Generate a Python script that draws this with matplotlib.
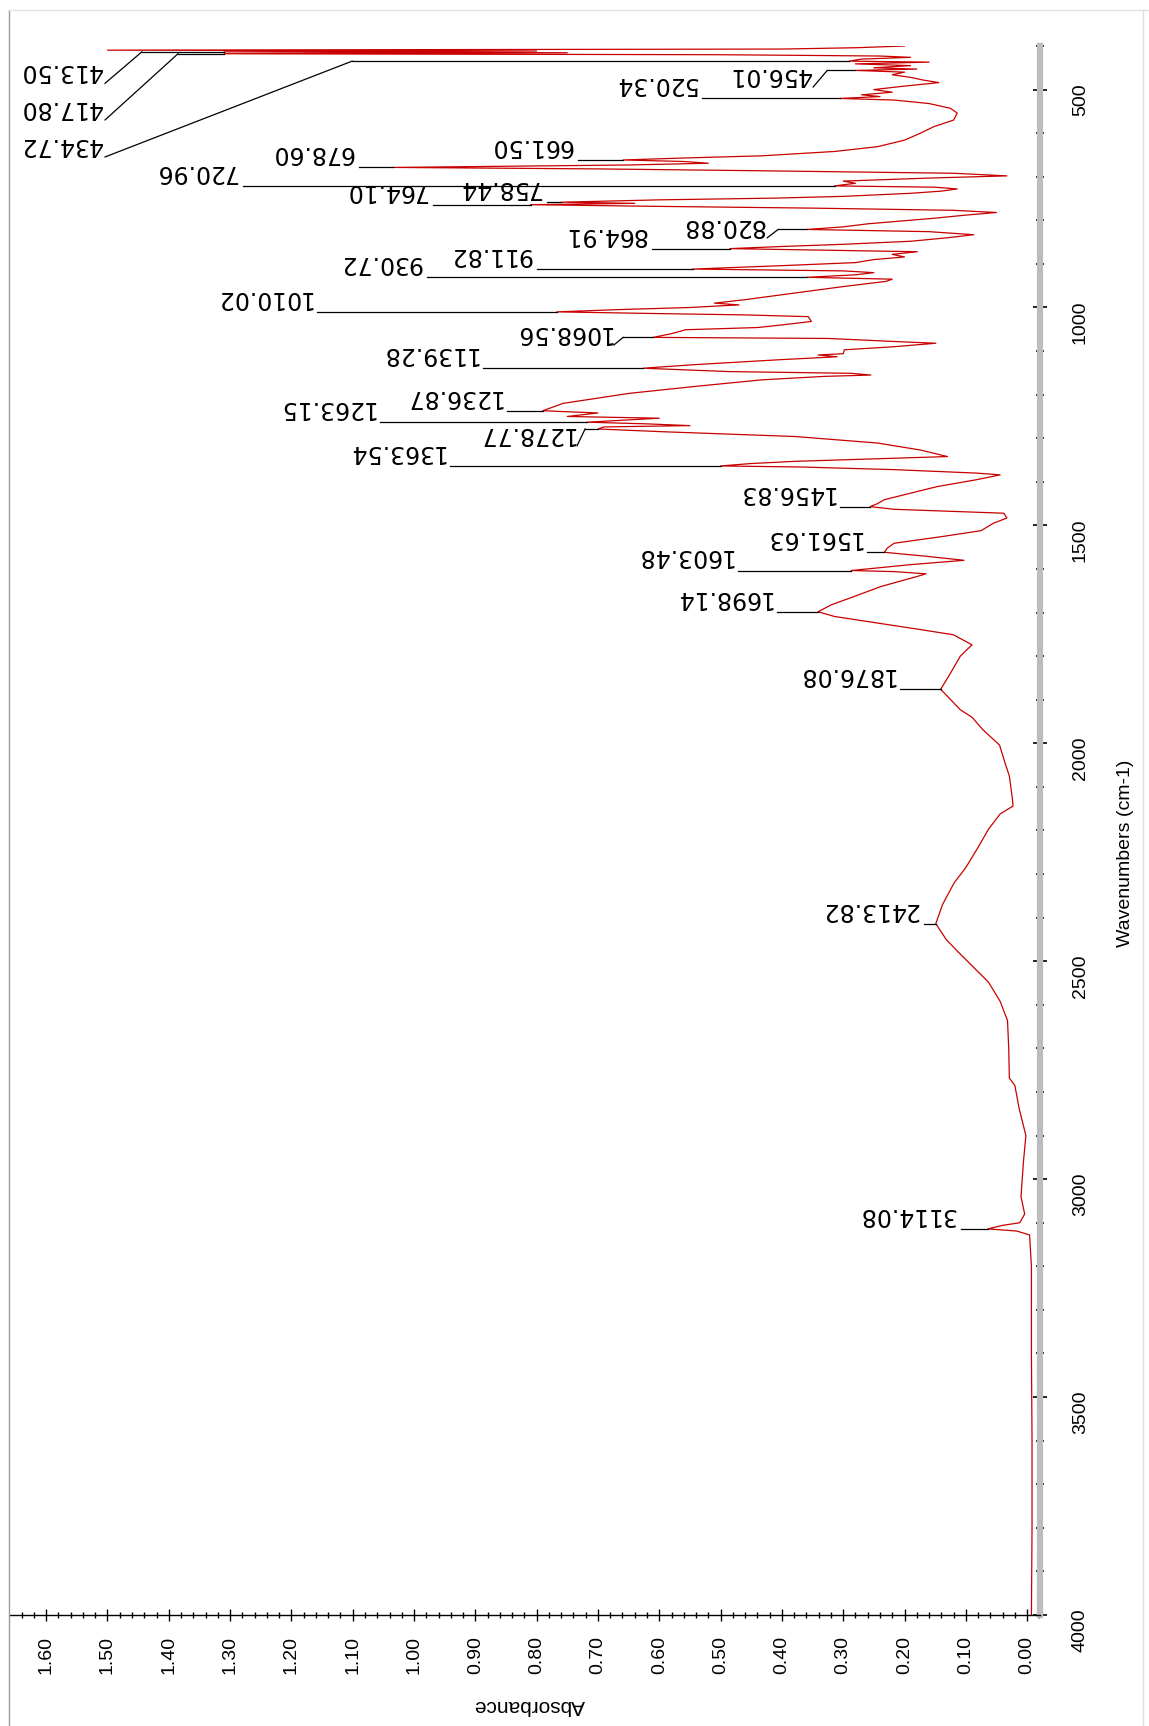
import numpy as np
import matplotlib
matplotlib.use('Agg')
import matplotlib.pyplot as plt
from matplotlib.lines import Line2D
from matplotlib.ticker import MultipleLocator, FuncFormatter

# ---------------- spectrum ----------------
wavenumber = [
    400, 404, 407, 409.5, 411.5, 413.5, 415.5, 417.8, 420, 423, 426, 430, 434.72, 437,
    441, 445, 450, 453, 456.01, 460, 466, 472, 478, 484, 492, 500, 506, 512, 516,
    520.34, 524, 532, 543, 554, 570, 585, 600, 616, 631, 642, 652, 657, 661.5, 665,
    669, 673, 678.6, 682, 686, 692, 698, 703, 710, 715, 720.96, 724, 728, 733, 738,
    745, 749, 753, 758.44, 761, 764.1, 768, 772, 777, 782, 788, 795, 802, 808, 815,
    820.88, 826, 833, 840, 848, 855, 860, 864.91, 868, 872, 878, 884, 890, 897, 904,
    911.82, 916, 920, 925, 930.72, 935, 940, 952, 967, 982, 990, 994, 1000, 1005,
    1010.02, 1014, 1017, 1021, 1032, 1040, 1046, 1051, 1060, 1068.56, 1071, 1078,
    1082, 1090, 1097, 1106, 1109, 1113, 1120, 1131, 1139.28, 1147, 1151, 1155, 1158,
    1166, 1181, 1197, 1220, 1236.87, 1242, 1250, 1254, 1263.15, 1267, 1271, 1274,
    1278.77, 1285, 1296, 1311, 1327, 1342, 1353, 1358, 1363.54, 1366, 1372, 1380,
    1384, 1395, 1411, 1426, 1441, 1450, 1456.83, 1463, 1472, 1483, 1495, 1512, 1525,
    1541, 1552, 1561.63, 1571, 1580, 1590, 1603.48, 1606, 1611, 1617, 1640, 1663,
    1682, 1698.14, 1709, 1724, 1739, 1751, 1774, 1800, 1839, 1876.08, 1892, 1923,
    1940, 1969, 2004, 2045, 2075, 2127, 2144, 2162, 2197, 2241, 2285, 2320, 2370,
    2413.82, 2450, 2478, 2513, 2548, 2592, 2636, 2700, 2768, 2785, 2838, 2900, 2960,
    3040, 3080, 3100, 3106, 3114.08, 3119, 3128, 3200, 3400, 3600, 3800, 4000]
absorbance = [
    0.20, 0.28, 0.40, 1.50, 0.80, 1.31, 0.75, 1.31, 0.50, 0.24, 0.19, 0.27, 0.29, 0.16,
    0.28, 0.19, 0.25, 0.18, 0.28, 0.20, 0.22, 0.19, 0.17, 0.144, 0.20, 0.25, 0.22, 0.27, 0.24,
    0.305, 0.217, 0.16, 0.125, 0.114, 0.12, 0.152, 0.174, 0.20, 0.244, 0.314, 0.433, 0.56, 0.659, 0.56,
    0.52, 0.65, 1.034, 0.70, 0.45, 0.12, 0.033, 0.16, 0.30, 0.28, 0.314, 0.15, 0.114, 0.14, 0.19,
    0.30, 0.41, 0.60, 0.76, 0.64, 0.81, 0.60, 0.35, 0.12, 0.05, 0.10, 0.15, 0.21, 0.26, 0.30,
    0.359, 0.16, 0.087, 0.13, 0.19, 0.30, 0.40, 0.485, 0.35, 0.179, 0.22, 0.20, 0.25, 0.28, 0.40,
    0.545, 0.30, 0.25, 0.28, 0.359, 0.22, 0.23, 0.30, 0.38, 0.46, 0.51, 0.47, 0.55, 0.67,
    0.767, 0.60, 0.46, 0.357, 0.352, 0.40, 0.44, 0.557, 0.58, 0.61, 0.325, 0.217,
    0.149, 0.217, 0.298, 0.30, 0.341, 0.31, 0.406, 0.541, 0.626, 0.487, 0.287, 0.255, 0.33,
    0.433, 0.541, 0.649, 0.757, 0.79, 0.70, 0.75, 0.60, 0.718, 0.62, 0.55, 0.69,
    0.70, 0.595, 0.379, 0.244, 0.174, 0.130, 0.379, 0.45, 0.50, 0.368, 0.217, 0.082,
    0.044, 0.082, 0.147, 0.190, 0.233, 0.244, 0.256, 0.217, 0.038, 0.033, 0.055, 0.075, 0.136,
    0.217, 0.228, 0.233, 0.163, 0.103, 0.190, 0.287, 0.217, 0.165, 0.179, 0.238, 0.282,
    0.319, 0.341, 0.314, 0.244, 0.174, 0.12, 0.09, 0.109, 0.125, 0.141, 0.130, 0.109,
    0.09, 0.072, 0.045, 0.036, 0.029, 0.024, 0.023, 0.044, 0.063, 0.081, 0.100, 0.119, 0.138,
    0.149, 0.132, 0.113, 0.088, 0.063, 0.044, 0.032, 0.030, 0.029, 0.020, 0.013, 0.002, 0.006,
    0.010, 0.004, 0.012, 0.040, 0.064, 0.017, -0.004, -0.007, -0.007, -0.008, -0.008, -0.007]

# ---------------- peak labels ----------------
peak_labels = ['413.50', '417.80', '434.72', '456.01', '520.34', '661.50', '678.60',
               '720.96', '758.44', '764.10', '820.88', '864.91', '911.82', '930.72',
               '1010.02', '1068.56', '1139.28', '1236.87', '1263.15', '1278.77',
               '1363.54', '1456.83', '1561.63', '1603.48', '1698.14', '1876.08',
               '2413.82', '3114.08']
# absorbance where the horizontal label line ends
label_end = [1.444, 1.385, 1.101, 0.326, 0.530, 0.732, 1.09,
             1.279, 0.783, 0.969, 0.406, 0.612, 0.799, 0.979,
             1.158, 0.659, 0.887, 0.848, 1.055, 0.721,
             0.941, 0.305, 0.261, 0.471, 0.408, 0.207,
             0.168, 0.108]
# slanted leader end (wavenumber, absorbance); nan = straight leader
leader_wn = [485.6, 569.7, 654.6, 494, np.nan, np.nan, np.nan,
             np.nan, np.nan, np.nan, 840, np.nan, np.nan, np.nan,
             np.nan, 1086, np.nan, np.nan, np.nan, 1317,
             np.nan, np.nan, np.nan, np.nan, np.nan, np.nan,
             np.nan, np.nan]
leader_abs = [1.504, 1.504, 1.504, 0.349, np.nan, np.nan, np.nan,
              np.nan, np.nan, np.nan, 0.424, np.nan, np.nan, np.nan,
              np.nan, 0.674, np.nan, np.nan, np.nan, 0.734,
              np.nan, np.nan, np.nan, np.nan, np.nan, np.nan,
              np.nan, np.nan]

W, H = 1149, 1726
fig = plt.figure(figsize=(W / 100, H / 100), dpi=100)
ax = fig.add_axes([10 / W, 1 - 1615 / H, (1040 - 10) / W, (1615 - 46) / H])

ax.plot(absorbance, wavenumber, color='#c80000', lw=0.9, zorder=2)

# label leaders and texts
peak_wn = np.array([float(s) for s in peak_labels])
tips = np.interp(peak_wn, wavenumber, absorbance)
for txt, wn, tip, end, dwn, dab in zip(peak_labels, peak_wn, tips, label_end, leader_wn, leader_abs):
    ax.plot([tip, end], [wn, wn], color='black', lw=0.9, zorder=3)
    if np.isnan(dwn):
        anchor, off = (end, wn), (-4, 1.5)
    else:
        ax.plot([end, dab], [wn, dwn], color='black', lw=0.9, zorder=3)
        anchor, off = (dab, dwn), (-2, 0)
    ax.annotate(txt, xy=anchor, xytext=off, textcoords='offset points',
                rotation=180, ha='right', va='bottom', fontsize=17,
                family='DejaVu Sans', zorder=4)

# axes
ax.set_xlim(1.659, -0.021)
ax.set_ylim(4000, 400)
ax.xaxis.set_major_locator(MultipleLocator(0.1))
ax.xaxis.set_minor_locator(MultipleLocator(0.02))
ax.xaxis.set_major_formatter(FuncFormatter(lambda v, p: '%.2f' % abs(v) if abs(v) < 1e-9 else '%.2f' % v))
ax.yaxis.set_major_locator(MultipleLocator(500))
ax.yaxis.set_minor_locator(MultipleLocator(100))

for s in ['left', 'top']:
    ax.spines[s].set_visible(False)
ax.spines['bottom'].set_color('black')
ax.spines['bottom'].set_linewidth(1.0)
ax.spines['right'].set_color('#bdbdbd')
ax.spines['right'].set_linewidth(4.5)

tick_font = ['Liberation Sans Narrow', 'Liberation Sans', 'DejaVu Sans']
ax.yaxis.tick_right()
ax.tick_params(axis='y', which='major', direction='inout', length=10, width=1.2,
               pad=18, labelrotation=90, labelsize=14)
ax.tick_params(axis='y', which='minor', direction='inout', length=6, width=1.2)
ax.tick_params(axis='x', which='major', direction='inout', length=8, width=1.0,
               pad=11, labelrotation=90, labelsize=14)
ax.tick_params(axis='x', which='minor', direction='inout', length=4, width=1.0)
for lab in ax.get_xticklabels() + ax.get_yticklabels():
    lab.set_family(tick_font)

fig.text(529 / W, 1 - 1705 / H, 'Absorbance', rotation=180, ha='center', va='center',
         fontsize=15, family=tick_font)
fig.text(1125 / W, 1 - 853 / H, 'Wavenumbers (cm-1)', rotation=90, ha='center', va='center',
         fontsize=14, family=tick_font)

# window frame
fig.add_artist(Line2D([9 / W, 9 / W], [0, 1 - 10 / H], transform=fig.transFigure, color='#9a9a9a', lw=1))
fig.add_artist(Line2D([9 / W, 1], [1 - 10 / H, 1 - 10 / H], transform=fig.transFigure, color='#e2e2e2', lw=1))
fig.add_artist(Line2D([1143 / W, 1143 / W], [0, 1 - 10 / H], transform=fig.transFigure, color='#dddddd', lw=1))

fig.savefig('out.png', dpi=100)
